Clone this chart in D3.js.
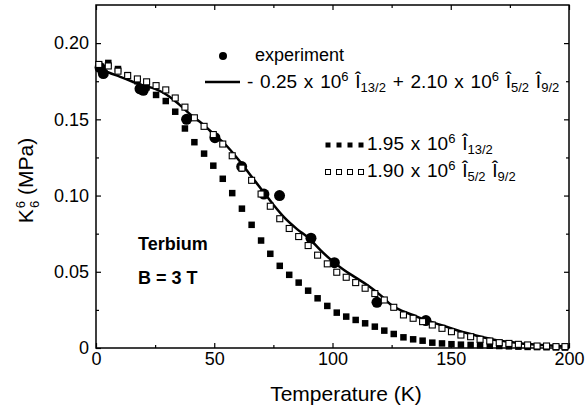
<!DOCTYPE html>
<html>
<head>
<meta charset="utf-8">
<script src="https://cdn.jsdelivr.net/npm/d3@7"></script>
<style>
  body { margin: 0; background: #fff; }
  svg text { font-family: "Liberation Sans", Arial, sans-serif; fill: #000; }
</style>
</head>
<body>
<div id="chart"></div>
<script>
// experiment (filled circles)
const expT = [1.7, 3.1, 18.6, 20, 38.3, 50.3, 61.6, 71, 77.6, 90.9, 100.8, 118.8, 139.5];
const expK = [0.184, 0.180, 0.170, 0.169, 0.150, 0.138, 0.119, 0.101, 0.100, 0.072, 0.056, 0.030, 0.018];

// fit: -0.25e6 I13/2 + 2.10e6 I5/2 I9/2 (solid line)
const fitT = [0, 5, 10, 15, 20, 25, 30, 35, 40, 45, 50, 55, 60, 65, 70, 75, 80, 85, 90, 95, 100, 105, 110, 115, 120, 125, 130, 135, 140, 145, 150, 155, 160, 170, 180, 190, 200];
const fitK = [0.185, 0.181, 0.178, 0.175, 0.172, 0.170, 0.166, 0.160, 0.153, 0.147, 0.140, 0.133, 0.124, 0.114, 0.104, 0.094, 0.085, 0.078, 0.072, 0.064, 0.057, 0.051, 0.046, 0.041, 0.035, 0.028, 0.024, 0.021, 0.018, 0.0155, 0.013, 0.0105, 0.0085, 0.005, 0.003, 0.0018, 0.001];

// model temperatures shared by both square series
const modelT = [1.2, 5.2, 9.3, 13.4, 17.5, 21.4, 25.4, 29.5, 33.5, 37.6, 41.6, 45.7, 49.6, 53.6, 57.6, 61.7, 65.8, 69.8, 73.7, 77.7, 81.7, 85.7, 89.7, 93.7, 97.8, 101.8, 105.8, 109.8, 113.8, 117.9, 121.9, 125.9, 130.0, 134.1, 138.1, 142.2, 146.3, 150.3, 154.3, 158.4, 162.4, 166.5, 170.5, 174.6, 178.6, 182.5, 186.5, 190.5, 194.5, 198.3];
// 1.95e6 I13/2 (filled squares)
const i13K = [0.186, 0.187, 0.183, 0.179, 0.175, 0.171, 0.166, 0.162, 0.155, 0.144, 0.135, 0.1275, 0.1196, 0.111, 0.1016, 0.0914, 0.0808, 0.0705, 0.0618, 0.0539, 0.048, 0.0429, 0.0376, 0.0326, 0.0276, 0.0232, 0.0206, 0.0184, 0.0162, 0.014, 0.0114, 0.0092, 0.007, 0.0057, 0.0048, 0.0035, 0.003, 0.0025, 0.0022, 0.002, 0.0018, 0.0015, 0.0013, 0.0011, 0.0009, 0.0007, 0.0006, 0.0005, 0.0004, 0.0003];
// 1.90e6 I5/2 I9/2 (open squares)
const i59K = [0.186, 0.185, 0.1816, 0.1787, 0.1765, 0.1746, 0.1721, 0.1693, 0.164, 0.158, 0.151, 0.1454, 0.140, 0.1338, 0.1261, 0.118, 0.110, 0.101, 0.093, 0.0848, 0.0784, 0.0731, 0.0672, 0.0609, 0.0552, 0.0497, 0.0464, 0.0429, 0.0392, 0.0357, 0.0315, 0.0267, 0.0217, 0.0195, 0.0173, 0.0151, 0.0129, 0.0107, 0.0085, 0.0074, 0.0057, 0.0046, 0.0035, 0.003, 0.0024, 0.002, 0.0013, 0.0013, 0.0009, 0.0009];

const xTicks = [0, 50, 100, 150, 200];
const xMinor = [25, 75, 125, 175];
const yTicks = [0, 0.05, 0.10, 0.15, 0.20];
const yMinor = [0.025, 0.075, 0.125, 0.175];

const margin = { top: 5, right: 16, bottom: 63, left: 96 };
const width = 585 - margin.left - margin.right;
const height = 411 - margin.top - margin.bottom;

const svg = d3.select("#chart")
  .append("svg")
  .attr("width", 585)
  .attr("height", 411)
  .append("g")
  .attr("transform", `translate(${margin.left},${margin.top})`);

const x = d3.scaleLinear().domain([0, 200]).range([0, width]);
const y = d3.scaleLinear().domain([0, 0.225]).range([height, 0]);

const tickFmt = d => d === 0 ? "0" : d3.format(".2f")(d);

function styleAxis(g) {
  g.select(".domain").remove();
  g.selectAll("line").attr("stroke", "#000").attr("stroke-width", 1.2);
  g.selectAll("text").style("font-size", "18px").attr("fill", "#000");
}

// major + minor ticks, all pointing inward
svg.append("g").attr("transform", `translate(0,${height})`)
  .call(d3.axisBottom(x).tickValues(xTicks).tickSize(-5).tickPadding(4).tickFormat(d3.format("d")))
  .call(styleAxis);
svg.append("g").attr("transform", `translate(0,${height})`)
  .call(d3.axisBottom(x).tickValues(xMinor).tickSize(-3).tickFormat(""))
  .call(styleAxis);
svg.append("g")
  .call(d3.axisTop(x).tickValues(xTicks).tickSize(-5).tickFormat(""))
  .call(styleAxis);
svg.append("g")
  .call(d3.axisTop(x).tickValues(xMinor).tickSize(-3).tickFormat(""))
  .call(styleAxis);
svg.append("g")
  .call(d3.axisLeft(y).tickValues(yTicks).tickSize(-5).tickPadding(7).tickFormat(tickFmt))
  .call(styleAxis);
svg.append("g")
  .call(d3.axisLeft(y).tickValues(yMinor).tickSize(-3).tickFormat(""))
  .call(styleAxis);
svg.append("g").attr("transform", `translate(${width},0)`)
  .call(d3.axisRight(y).tickValues(yTicks).tickSize(-5).tickFormat(""))
  .call(styleAxis);
svg.append("g").attr("transform", `translate(${width},0)`)
  .call(d3.axisRight(y).tickValues(yMinor).tickSize(-3).tickFormat(""))
  .call(styleAxis);

// frame
svg.append("rect")
  .attr("width", width)
  .attr("height", height)
  .attr("fill", "none")
  .attr("stroke", "#000")
  .attr("stroke-width", 1.5);

// axis titles
svg.append("text")
  .attr("x", 250)
  .attr("y", 396)
  .attr("text-anchor", "middle")
  .style("font-size", "21px")
  .text("Temperature (K)");

const yTitle = svg.append("text")
  .attr("transform", `translate(-63,${height / 2 + 4}) rotate(-90)`)
  .attr("text-anchor", "middle")
  .style("font-size", "21px");
yTitle.append("tspan").text("K");
yTitle.append("tspan").attr("dy", -8).attr("dx", 1).style("font-size", "13px").text("6");
yTitle.append("tspan").attr("dy", 14).attr("dx", -7).style("font-size", "13px").text("6");
yTitle.append("tspan").attr("dy", -6).text(" (MPa)");

// fit line
const line = d3.line()
  .x(i => x(fitT[i]))
  .y(i => y(fitK[i]))
  .curve(d3.curveMonotoneX);

svg.append("path")
  .datum(d3.range(fitT.length))
  .attr("d", line)
  .attr("fill", "none")
  .attr("stroke", "#000")
  .attr("stroke-width", 2.5);

// experiment
svg.selectAll(".exp")
  .data(d3.range(expT.length))
  .enter()
  .append("circle")
  .attr("class", "exp")
  .attr("cx", i => x(expT[i]))
  .attr("cy", i => y(expK[i]))
  .attr("r", 5.5)
  .attr("fill", "#000");

// filled squares
const sq = 6.5;
svg.selectAll(".i13")
  .data(d3.range(modelT.length))
  .enter()
  .append("rect")
  .attr("class", "i13")
  .attr("x", i => x(modelT[i]) - sq / 2)
  .attr("y", i => y(i13K[i]) - sq / 2)
  .attr("width", sq)
  .attr("height", sq)
  .attr("fill", "#000");

// open squares
svg.selectAll(".i59")
  .data(d3.range(modelT.length))
  .enter()
  .append("rect")
  .attr("class", "i59")
  .attr("x", i => x(modelT[i]) - 3)
  .attr("y", i => y(i59K[i]) - 3)
  .attr("width", 6)
  .attr("height", 6)
  .attr("fill", "#fff")
  .attr("stroke", "#000")
  .attr("stroke-width", 1.1);

// text with super/subscripts
function richText(xp, yp, parts, size, weight, small) {
  const t = svg.append("text")
    .attr("x", xp)
    .attr("y", yp)
    .style("font-size", size + "px")
    .style("font-weight", weight || "normal")
    .style("word-spacing", small ? "1.5px" : null);
  let shift = 0;
  parts.forEach(p => {
    const target = p.sup ? -7 : p.sub ? 4 : 0;
    t.append("tspan")
      .attr("dy", target - shift)
      .style("font-size", (p.sup || p.sub) ? small + "px" : size + "px")
      .text(p.t);
    shift = target;
  });
  return t;
}

// legend (coordinates relative to plot group)
const lg = { x: -96, y: -5 };
svg.append("circle").attr("cx", 223 + lg.x).attr("cy", 56 + lg.y).attr("r", 4).attr("fill", "#000");
richText(255 + lg.x, 61 + lg.y, [{ t: "experiment" }], 18);

svg.append("line")
  .attr("x1", 205 + lg.x).attr("x2", 240 + lg.x)
  .attr("y1", 82 + lg.y).attr("y2", 82 + lg.y)
  .attr("stroke", "#000").attr("stroke-width", 2.5);
richText(247 + lg.x, 88 + lg.y, [
  { t: "- 0.25 x 10" }, { t: "6", sup: true }, { t: " Î" }, { t: "13/2", sub: true },
  { t: " + 2.10 x 10" }, { t: "6", sup: true }, { t: " Î" }, { t: "5/2", sub: true },
  { t: " Î" }, { t: "9/2", sub: true }
], 19, null, 13);

const legSq = [0, 1, 2, 3];
svg.selectAll(".lg13")
  .data(legSq)
  .enter()
  .append("rect")
  .attr("x", i => 328 + lg.x + i * 11 - 2.5)
  .attr("y", 145 + lg.y - 2.5)
  .attr("width", 5)
  .attr("height", 5)
  .attr("fill", "#000");
richText(367 + lg.x, 150 + lg.y, [
  { t: "1.95 x 10" }, { t: "6", sup: true }, { t: " Î" }, { t: "13/2", sub: true }
], 19, null, 13);

svg.selectAll(".lg59")
  .data(legSq)
  .enter()
  .append("rect")
  .attr("x", i => 328 + lg.x + i * 11 - 2.5)
  .attr("y", 172 + lg.y - 2.5)
  .attr("width", 5)
  .attr("height", 5)
  .attr("fill", "#fff")
  .attr("stroke", "#000")
  .attr("stroke-width", 1);
richText(367 + lg.x, 177 + lg.y, [
  { t: "1.90 x 10" }, { t: "6", sup: true }, { t: " Î" }, { t: "5/2", sub: true },
  { t: " Î" }, { t: "9/2", sub: true }
], 19, null, 13);

// annotations
richText(138 + lg.x, 250 + lg.y, [{ t: "Terbium" }], 18, "bold");
richText(138 + lg.x, 284 + lg.y, [{ t: "B = 3 T" }], 18, "bold");
</script>
</body>
</html>
